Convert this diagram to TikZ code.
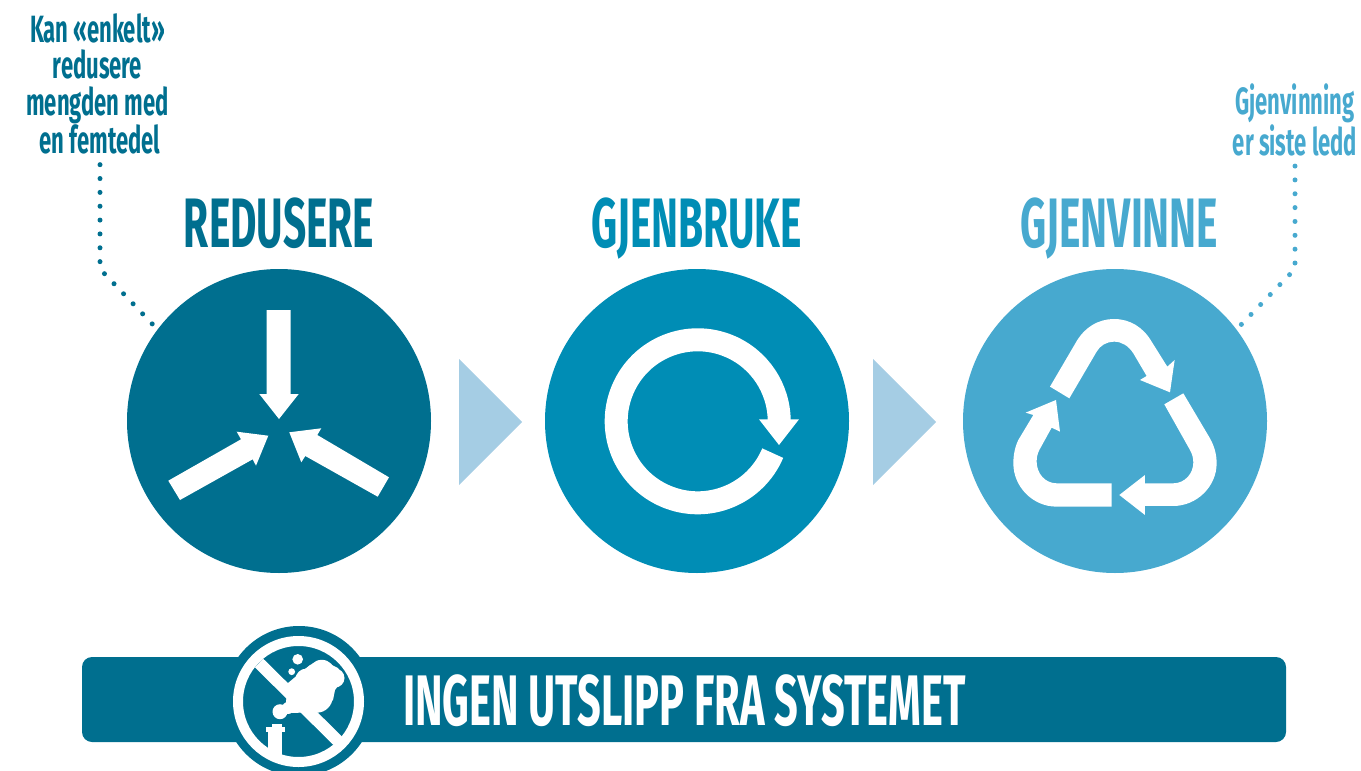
\documentclass[tikz,border=0pt]{standalone}
\usepackage{fontspec}
\newfontfamily\condfont[FakeStretch=0.58]{Fira Sans}
\definecolor{darkteal}{HTML}{006F8F}
\definecolor{midteal}{HTML}{008DB5}
\definecolor{lightteal}{HTML}{47A9CF}
\definecolor{paleteal}{HTML}{A5CDE4}
\tikzset{
	stagedisc/.style={circle, draw=none, minimum size=304pt, inner sep=0pt},
	stagetitle/.style={font=\condfont\bfseries\fontsize{70}{70}\selectfont, inner sep=0pt, anchor=base},
	sidenote/.style={font=\condfont\bfseries\fontsize{38}{36.6}\selectfont, align=center, inner sep=0pt},
	leader/.style={line width=5pt, line cap=round, dash pattern=on 0pt off 13.85pt}
}

\begin{document}
\begin{tikzpicture}[x=1pt, y=-1pt]
	\useasboundingbox (0,0) rectangle (1361,771);
	\clip (0,0) rectangle (1361,771);

	\node[stagedisc, fill=darkteal] (reduce) at (279,421) {};
	\node[stagedisc, fill=midteal] (reuse) at (697,421) {};
	\node[stagedisc, fill=lightteal] (recycle) at (1115,421) {};

	\node[stagetitle, text=darkteal] (reducetitle) at (279,247) {REDUSERE};
	\node[stagetitle, text=midteal] (reusetitle) at (696.5,247) {GJENBRUKE};
	\node[stagetitle, text=lightteal] (recycletitle) at (1119.5,247) {GJENVINNE};

	\node[sidenote, text=darkteal] (reducenote) at (97.5,84) {Kan «enkelt»\\redusere\\mengden med\\\hspace{5pt}en femtedel};
	\node[sidenote, text=lightteal] (recyclenote) at (1295,120) {Gjenvinning\\er siste ledd};

	\draw[leader, darkteal, shorten >=-9pt] ([shift={(2.5,10)}]reducenote.south) -- (100,269) -- (reduce.143);
	\draw[leader, lightteal, shorten >=-9pt] ([shift={(0,10)}]recyclenote.south) -- (1295,269) -- (recycle.37);

	\fill[paleteal] (459,359) -- (522,422) -- (459,485) -- cycle;
	\fill[paleteal] (873,359) -- (936,422) -- (873,485) -- cycle;

	% three arrows pressing inwards
	\fill[white] (266.7,310) -- (290.7,310) -- (290.7,394) -- (298.7,394) -- (279,419) -- (259.3,394) -- (266.7,394) -- cycle;
	\fill[white] (168.3,480.7) -- (180,500) -- (252.7,459.3) -- (256,465.7) -- (268.3,435.7) -- (236.7,431.7) -- (241,439.3) -- cycle;
	\fill[white] (389,477.3) -- (377.7,496.7) -- (305.3,456) -- (301.3,462.3) -- (289.3,432.3) -- (321.3,428.3) -- (317.3,435) -- cycle;

	% loop arrow
	\draw[white, line width=23pt] (697.7,421.3) ++(23:81.5) arc (23:360:81.5);
	\fill[white] (759,419.3) -- (799,419.3) -- (779,445) -- cycle;

	% recycling triangle, read off at three times the size
	\begin{scope}[shift={(960,270)}, x=0.3333pt, y=-0.3333pt]
		\fill[white] (270,350) -- (345,222) .. controls (372,172) and (415,147) .. (462,147) .. controls (510,147) and (550,172) .. (575,215) -- (622,290) -- (644,270) -- (630,367) -- (540,330) -- (560,318) -- (520,250) .. controls (505,227) and (485,215) .. (462,215) .. controls (440,215) and (420,227) .. (410,245) -- (328,385) -- cycle;
		\fill[white] (613,403) -- (670,370) -- (750,505) .. controls (764,530) and (770,555) .. (770,580) .. controls (770,650) and (710,708) .. (640,708) -- (555,708) -- (555,735) -- (478,675) -- (555,615) -- (555,640) -- (640,640) .. controls (675,640) and (700,610) .. (700,578) .. controls (700,565) and (697,552) .. (690,540) -- cycle;
		\fill[white] (455,640) -- (455,710) -- (290,710) .. controls (218,710) and (160,650) .. (160,580) .. controls (160,555) and (165,530) .. (175,510) -- (220,435) -- (197,428) -- (288,390) -- (300,485) -- (275,473) -- (238,540) .. controls (232,552) and (230,563) .. (230,575) .. controls (230,610) and (255,640) .. (290,640) -- cycle;
	\end{scope}

	\draw[fill=darkteal, draw=none, rounded corners=10pt] (82,657) rectangle (1286,742);
	\node[circle, fill=darkteal, minimum size=150pt, inner sep=0pt] (badge) at (299,701) {};
	\node[font=\condfont\bfseries\fontsize{71.6}{72}\selectfont, text=white, anchor=base west, inner sep=0pt] (bartext) at (403,725) {INGEN UTSLIPP FRA SYSTEMET};

	% no-smoke sign
	\draw[white, line width=10pt] (298.5,701.5) circle (60.5);
	\draw[white, line width=12pt] (259,663) -- (338,741);
	\fill[white] (297.7,659.3) circle (5.3);
	\fill[white] (291.7,671.7) circle (3.4);
	\fill[white] (300,673) -- (288,683) -- (287,697) -- (285,708) -- (292,713) -- (317,712) -- (333,700) -- (335,690) -- (344,678) -- (338,668) -- (322,660) -- (310,665) -- cycle;
	\fill[white] (321.7,673.3) circle (13.5);
	\fill[white] (335,678) circle (9.5);
	\fill[white] (306.7,680) circle (11.5);
	\fill[white] (316.7,696.7) circle (16);
	\fill[white] (297,701) circle (11);
	\fill[white] (288,708) circle (6);
	\fill[white] (280,711.7) circle (7.5);
	\fill[white] (265.7,726.7) rectangle (284.7,731.7);
	\fill[white] (271.7,724) rectangle (281.7,727);
	\fill[white] (268.3,731.7) rectangle (282.3,757);
\end{tikzpicture}
\end{document}
